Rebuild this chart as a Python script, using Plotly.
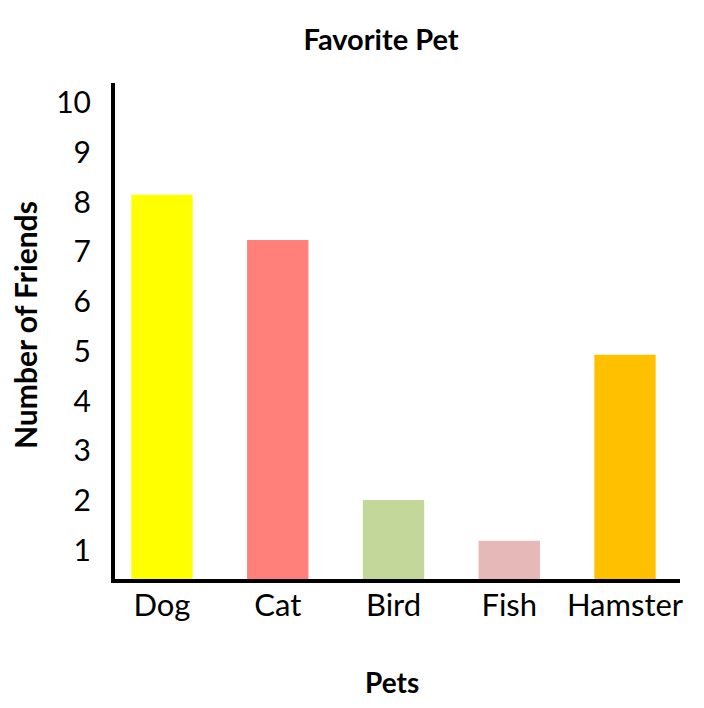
import plotly.graph_objects as go

# Data
pets = ["Dog", "Cat", "Bird", "Fish", "Hamster"]
friends = [8.15, 7.24, 2.01, 1.19, 4.93]
colors = ["#FFFF00", "#FF7F7A", "#C4D79B", "#E6B8B7", "#FFC000"]
y_ticks = [1, 2, 3, 4, 5, 6, 7, 8, 9, 10]

W, H = 704, 708
OFF = 8  # page body offset
L, T = 115 - OFF, 83 - OFF
R = W - (680 - OFF)
B = H - (579 - OFF)
FONT = "Lato, 'Century Gothic', sans-serif"

fig = go.Figure(
    go.Bar(
        x=pets,
        y=friends,
        marker=dict(color=colors, line=dict(width=0)),
        width=0.53,
    )
)

pw = W - L - R
ph = H - T - B

def px(x):
    return (x - OFF - L) / pw

def py(y):
    return (H - B - (y - OFF)) / ph

fig.update_layout(
    width=W,
    height=H,
    margin=dict(l=L, r=R, t=T, b=B, pad=0),
    paper_bgcolor="white",
    plot_bgcolor="white",
    showlegend=False,
    font=dict(family=FONT, color="black"),
    title=dict(
        text="<b>Favorite Pet</b>",
        x=(381 - OFF) / W,
        xanchor="center",
        xref="container",
        y=1 - (40 - OFF) / H,
        yanchor="middle",
        yref="container",
        font=dict(size=29, family=FONT, color="black"),
    ),
    xaxis=dict(
        range=[-0.406, 4.475],
        showline=True,
        linecolor="black",
        linewidth=4,
        showgrid=False,
        zeroline=False,
        ticks="",
        tickfont=dict(size=31, family=FONT, color="black"),
        ticklabelstandoff=-4,
    ),
    yaxis=dict(
        range=[0.42, 10.40],
        tickvals=y_ticks,
        showline=True,
        linecolor="black",
        linewidth=4,
        showgrid=False,
        zeroline=False,
        ticks="",
        tickfont=dict(size=30, family=FONT, color="black"),
        ticklabelstandoff=14,
    ),
    annotations=[
        dict(
            text="<b>Number of Friends</b>",
            xref="paper", yref="paper",
            x=px(25), y=py(325),
            xanchor="center", yanchor="middle",
            textangle=-90,
            showarrow=False,
            font=dict(size=30, family=FONT, color="black"),
        ),
        dict(
            text="<b>Pets</b>",
            xref="paper", yref="paper",
            x=px(392), y=py(682),
            xanchor="center", yanchor="middle",
            showarrow=False,
            font=dict(size=28, family=FONT, color="black"),
        ),
    ],
)

fig.write_html("out.html")
